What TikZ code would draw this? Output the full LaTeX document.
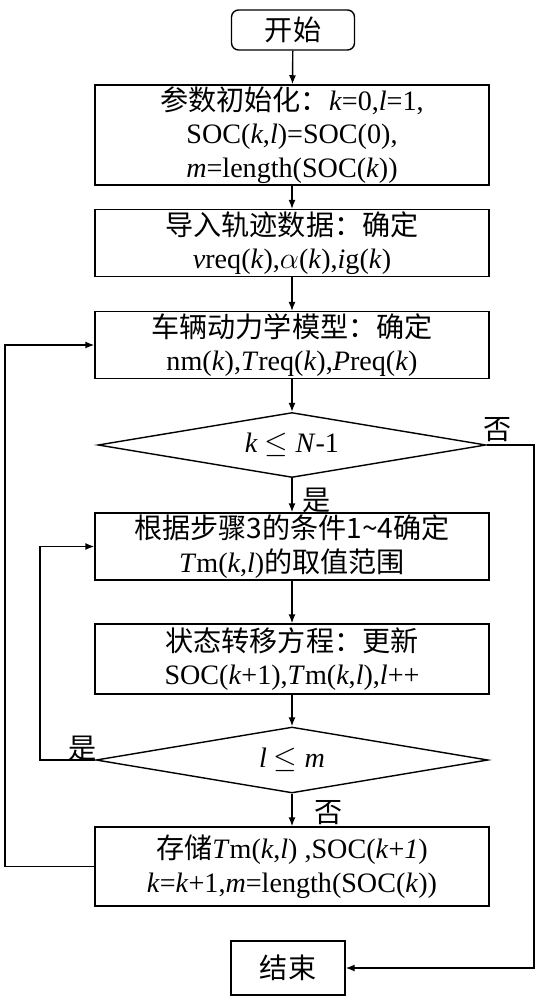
\documentclass[tikz,border=0pt]{standalone}
\usepackage{fontspec}
\setmainfont{Liberation Serif}
\newfontfamily\cjk{Noto Sans CJK SC}
\usetikzlibrary{arrows.meta,shapes.geometric}
\newcommand{\zh}[1]{{\cjk #1}}

\begin{document}
\begin{tikzpicture}[
    x=0.02cm, y=-0.02cm,
    >={Latex[length=1.8mm,width=1.4mm]}, % Set default arrow tip style
    line width=0.8pt,
    font=\fontsize{16}{19}\selectfont,
    box/.style={draw, rectangle, minimum width=7.88cm, align=center, inner sep=1pt},
    test/.style={draw, diamond, aspect=6, inner sep=0pt},
    term/.style={draw, rectangle, align=center}
]
    \useasboundingbox (0,0) rectangle (540,1000);

    % Start and first steps
    \node[term, rounded corners=4pt, minimum width=2.46cm, minimum height=0.8cm] (start) at (293,30) {\zh{开始}};
    \node[box, minimum height=2cm] (init) at (292,135)
        {\zh{参数初始化：}\textit{k}=0,\textit{l}=1,\\SOC(\textit{k},\textit{l})=SOC(0),\\\textit{m}=length(SOC(\textit{k}))};
    \node[box, minimum height=1.32cm] (traj) at (292,243)
        {\zh{导入轨迹数据：确定}\\\textit{v}req(\textit{k}),$\alpha$(\textit{k}),\textit{i}g(\textit{k})};
    \node[box, minimum height=1.32cm] (model) at (292,345)
        {\zh{车辆动力学模型：确定}\\nm(\textit{k}),\textit{T}req(\textit{k}),\textit{P}req(\textit{k})};

    % Outer test
    \node[test, minimum width=7.76cm, minimum height=1.3cm] (cond1) at (292,445) {\textit{k} $\leq$ \textit{N}-1};

    % Inner loop
    \node[box, minimum height=1.34cm] (range) at (292,546.5)
        {\zh{根据步骤3的条件1\textasciitilde4确定}\\\textit{T}m(\textit{k},\textit{l})\zh{的取值范围}};
    \node[box, minimum height=1.4cm] (update) at (292,659)
        {\zh{状态转移方程：更新}\\SOC(\textit{k}+1),\textit{T}m(\textit{k},\textit{l}),\textit{l}++};
    \node[test, minimum width=7.84cm, minimum height=1.32cm] (cond2) at (292,760) {\textit{l} $\leq$ \textit{m}};

    % Store and end
    \node[box, minimum height=1.58cm] (store) at (292,866.5)
        {\zh{存储}\textit{T}m(\textit{k},\textit{l}) ,SOC(\textit{k}+\textit{1})\\\textit{k}=\textit{k}+1,\textit{m}=length(SOC(\textit{k}))};
    \node[term, minimum width=2.28cm, minimum height=1.08cm] (stop) at (288,968) {\zh{结束}};

    % Labels
    \node (yes1) at (317,500) {\zh{是}};
    \node (no1) at (498,430) {\zh{否}};
    \node (yes2) at (83,748) {\zh{是}};
    \node (no2) at (329,813) {\zh{否}};

    % Main flow
    \draw[->] (start) -- (init);
    \draw[->] (init) -- (traj);
    \draw[->] (traj) -- (model);
    \draw[->] (model) -- (cond1);
    \draw[->] (cond1) -- (range);
    \draw[->] (range) -- (update);
    \draw[->] (update) -- (cond2);
    \draw[->] (cond2) -- (store);

    % Loop-back lines
    \coordinate (rgt) at (534,445);
    \coordinate (inl) at (40,760);
    \coordinate (outl) at (5,866.5);
    \draw[->] (cond1.east) -- (rgt) |- (stop.east);
    \draw[->] (cond2.west) -- (inl) |- (range.west);
    \draw[->] (store.west) -- (outl) |- (model.west);

\end{tikzpicture}
\end{document}
